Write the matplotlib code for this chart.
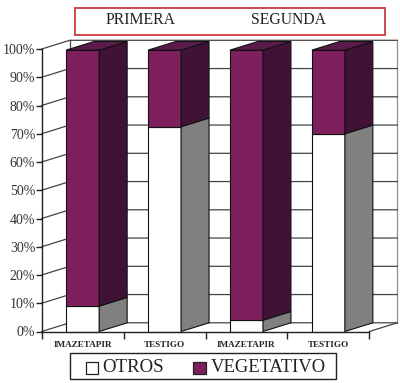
import matplotlib
matplotlib.use("Agg")
import matplotlib.pyplot as plt
from matplotlib.patches import Polygon, Rectangle

plt.rcParams['font.family'] = ['Liberation Serif', 'DejaVu Serif']

categories = ['IMAZETAPIR', 'TESTIGO', 'IMAZETAPIR', 'TESTIGO']
otros = [9, 72.5, 4, 70]
vegetativo = [90.6, 27.1, 95.6, 29.6]
y_ticks = list(range(0, 101, 10))
y_labels = [f'{v}%' for v in y_ticks]
groups = ['PRIMERA', 'SEGUNDA']
series_names = ['OTROS', 'VEGETATIVO']

W, H = 400, 383
fig = plt.figure(figsize=(W / 100, H / 100), dpi=100, facecolor='white')


def fx(p):
    return p / W


def fy(p):
    return 1 - p / H


L, R, T, B = 41.7, 369.3, 49, 331.5
ax = fig.add_axes([fx(L), fy(B), fx(R - L), (B - T) / H])
ax.set_xlim(0, 4)
ax.set_ylim(0, 100)
ax.patch.set_visible(False)
for s in ('top', 'right'):
    ax.spines[s].set_visible(False)
for s in ('left', 'bottom'):
    ax.spines[s].set_linewidth(1.0)
    ax.spines[s].set_color('#222222')
    ax.spines[s].set_zorder(6)

DX = 28 / ((R - L) / 4)
DY = 8.7 / ((B - T) / 100)
BAR = 33 / ((R - L) / 4)
GRID = '#444444'

# back walls and grid
ax.plot([DX, DX], [DY, 100 + DY], color=GRID, lw=0.9, clip_on=False, zorder=1)
ax.plot([4 + DX, 4 + DX], [DY, 100 + DY], color='#999999', lw=1.0, clip_on=False, zorder=1)
for v in y_ticks:
    ax.plot([0, DX, 4 + DX], [v, v + DY, v + DY], color=GRID, lw=0.9,
            clip_on=False, zorder=1)
ax.plot([4, 4 + DX], [0, DY], color=GRID, lw=0.9, clip_on=False, zorder=1)


def box(c, lo, hi, front, side, top=None):
    x0, x1 = c - BAR / 2, c + BAR / 2
    kw = dict(edgecolor='#111111', linewidth=0.8, clip_on=False, zorder=3, joinstyle='miter')
    ax.add_patch(Polygon([(x0, lo), (x1, lo), (x1, hi), (x0, hi)], facecolor=front, **kw))
    ax.add_patch(Polygon([(x1, lo), (x1 + DX, lo + DY), (x1 + DX, hi + DY), (x1, hi)],
                         facecolor=side, **kw))
    if top:
        ax.add_patch(Polygon([(x0, hi), (x1, hi), (x1 + DX, hi + DY), (x0 + DX, hi + DY)],
                             facecolor=top, **kw))


for i, (o, v) in enumerate(zip(otros, vegetativo)):
    c = i + 0.5
    box(c, 0, o, 'white', '#808080')
    box(c, o, o + v, '#7e1f5e', '#3f1236', '#5c1a4a')

ax.set_yticks(y_ticks)
ax.set_yticklabels(y_labels, fontsize=10, color='#333333')
ax.tick_params(axis='y', length=4.5, width=1.0, pad=0.2, color='#222222')
ax.set_xticks(range(5))
ax.set_xticklabels([])
ax.tick_params(axis='x', which='major', length=5, width=1.0, direction='out', color='#222222')
ax.set_xticks([i + 0.5 for i in range(4)], minor=True)
ax.set_xticklabels(categories, minor=True, fontsize=6.6, fontweight='bold', color='#222222')
ax.tick_params(axis='x', which='minor', length=0, pad=7)

# title box
fig.add_artist(Rectangle((fx(75), fy(35)), fx(310), 27 / H, transform=fig.transFigure,
                         facecolor='white', edgecolor='#cf4a4a', linewidth=1.4))
fig.text(fx(141), fy(20.5), groups[0], ha='center', va='center', fontsize=11.3, color='#222222')
fig.text(fx(288), fy(20.5), groups[1], ha='center', va='center', fontsize=11.3, color='#222222')

# legend
fig.add_artist(Rectangle((fx(69.5), fy(379)), fx(266.5), 26 / H, transform=fig.transFigure,
                         facecolor='white', edgecolor='#222222', linewidth=1.0))
fig.add_artist(Rectangle((fx(85.5), fy(374)), fx(12.5), 12 / H, transform=fig.transFigure,
                         facecolor='white', edgecolor='#222222', linewidth=0.9))
fig.add_artist(Rectangle((fx(193), fy(374)), fx(13), 12 / H, transform=fig.transFigure,
                         facecolor='#7e1f5e', edgecolor='#222222', linewidth=0.9))
fig.text(fx(102.5), fy(367), series_names[0], ha='left', va='center', fontsize=13.6, color='#222222')
fig.text(fx(211), fy(367), series_names[1], ha='left', va='center', fontsize=13.4, color='#222222')

fig.savefig('out.png', dpi=100)
